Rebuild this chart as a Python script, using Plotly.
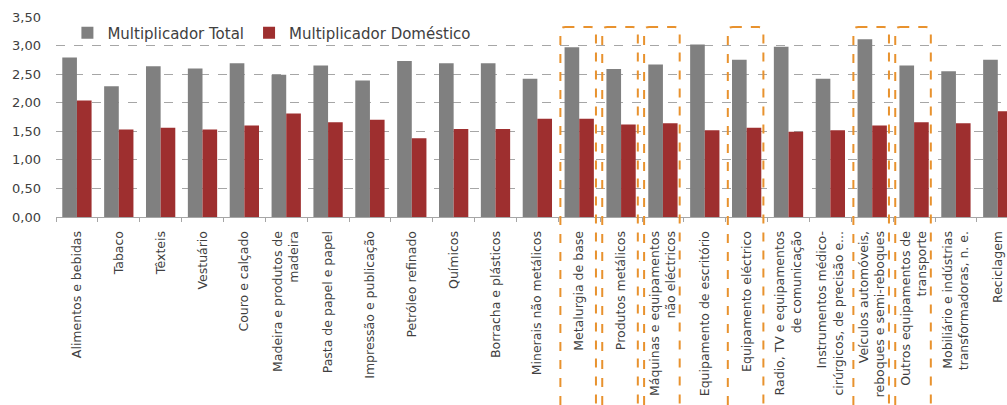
import plotly.graph_objects as go

categories = [
    "Alimentos e bebidas", "Tabaco", "Têxteis", "Vestuário", "Couro e calçado",
    "Madeira e produtos de<br>madeira", "Pasta de papel e papel", "Impressão e publicação",
    "Petróleo refinado", "Químicos", "Borracha e plásticos", "Minerais não metálicos",
    "Metalurgia de base", "Produtos metálicos", "Máquinas e equipamentos<br>não eléctricos",
    "Equipamento de escritório", "Equipamento eléctrico", "Radio, TV e equipamentos<br>de comunicação",
    "Instrumentos médico-<br>cirúrgicos, de precisão e...", "Veículos automóveis,<br>reboques e semi-reboques",
    "Outros equipamentos de<br>transporte", "Mobiliário e indústrias<br>transformadoras, n. e.", "Reciclagem",
]
mult_total = [2.79, 2.29, 2.64, 2.60, 2.69, 2.49, 2.65, 2.39, 2.73, 2.69, 2.69, 2.42,
              2.97, 2.59, 2.67, 3.02, 2.75, 2.98, 2.42, 3.11, 2.65, 2.55, 2.75]
mult_domestico = [2.04, 1.53, 1.56, 1.53, 1.60, 1.81, 1.66, 1.70, 1.38, 1.54, 1.54, 1.72,
                  1.72, 1.62, 1.64, 1.52, 1.56, 1.49, 1.52, 1.60, 1.66, 1.64, 1.85]
highlighted = [12, 13, 14, 16, 19, 20]
y_ticks = [0, 0.5, 1.0, 1.5, 2.0, 2.5, 3.0, 3.5]

idx = list(range(len(categories)))
font_fam = "DejaVu Sans"

fig = go.Figure()
fig.add_trace(go.Bar(x=idx, y=mult_total, name="Multiplicador Total",
                     marker=dict(color="#808080", line=dict(width=0))))
fig.add_trace(go.Bar(x=idx, y=mult_domestico, name="Multiplicador Doméstico",
                     marker=dict(color="#9e2f2f", line=dict(width=0))))

shapes = []
rx, ry = 0.12, 0.025
for i in highlighted:
    x0, x1 = i - 0.45, i + 0.40
    y0, y1 = -1.05, 0.95
    path = (f"M {x0+rx},{y1} L {x1-rx},{y1} Q {x1},{y1} {x1},{y1-ry} L {x1},{y0} "
            f"L {x0},{y0} L {x0},{y1-ry} Q {x0},{y1} {x0+rx},{y1} Z")
    shapes.append(dict(type="path", xref="x", yref="paper", path=path,
                       line=dict(color="#e8922e", width=2, dash="dash"),
                       fillcolor="rgba(0,0,0,0)", layer="above"))

fig.update_layout(
    width=1007, height=405,
    margin=dict(l=56, r=0, t=17, b=188),
    paper_bgcolor="white", plot_bgcolor="white",
    barmode="group", bargap=0.3, bargroupgap=0,
    separators=", ",
    font=dict(family=font_fam, color="#404040"),
    showlegend=True,
    legend=dict(orientation="h", x=0.012, y=0.92, xanchor="left", yanchor="middle",
                font=dict(size=15, color="#404040", family=font_fam),
                bgcolor="rgba(255,255,255,0)", itemwidth=30, tracegroupgap=0),
    shapes=shapes,
    xaxis=dict(
        range=[-0.5, 22.22], tickmode="array", tickvals=idx, ticktext=categories,
        tickangle=-90, ticks="", showgrid=False,
        showline=True, linecolor="#a6a6a6", linewidth=1,
        tickfont=dict(size=12.5, color="#404040", family=font_fam),
        minor=dict(ticks="outside", tickvals=[i - 0.5 for i in idx] + [len(idx) - 0.5],
                   ticklen=4, tickcolor="#a6a6a6", showgrid=False),
        ticklabelstandoff=8,
    ),
    yaxis=dict(
        range=[0, 3.5], tickmode="array", tickvals=y_ticks, tickformat=".2f",
        showgrid=True, gridcolor="#a6a6a6", griddash="dash", gridwidth=1,
        zeroline=False, showline=False, ticks="",
        tickfont=dict(size=13, color="#404040", family="DejaVu Sans"),
        ticklabelstandoff=14,
    ),
)

fig.write_html("out.html")
